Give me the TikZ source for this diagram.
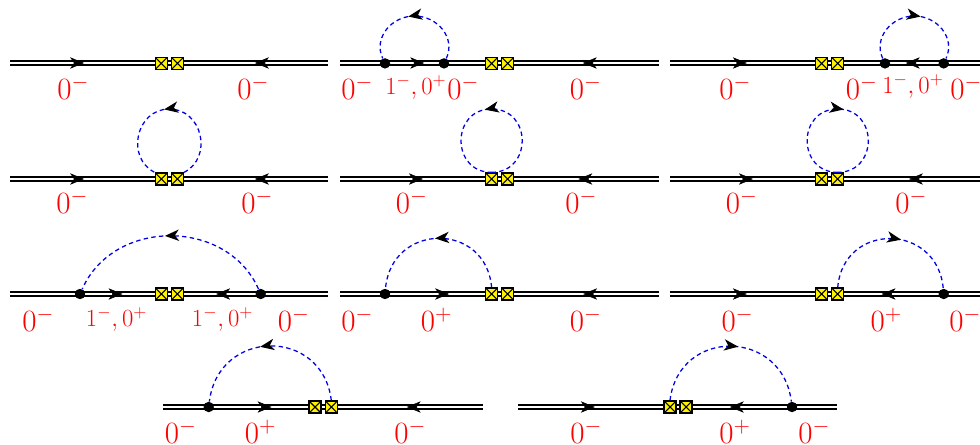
\documentclass[tikz,border=0pt]{standalone}
\usepackage{xcolor}
\usepackage{amsmath,amssymb}
\usepackage{tikz}
\usetikzlibrary{positioning,arrows.meta,decorations.markings}

\begin{document}
\begin{tikzpicture}[x=0.75pt,y=-0.75pt,
    every node/.style={font=\small},
    hadron/.style={preaction={draw,black,line width=1.05pt,double=white,double distance=2.2pt}},
    flow/.style 2 args={postaction={decorate},decoration={markings,
        mark=at position #1 with {\arrow{Stealth[length=10.5pt,width=8.5pt,inset=3pt]}},
        mark=at position #2 with {\arrowreversed{Stealth[length=10.5pt,width=8.5pt,inset=3pt]}}}},
    scalar/.style={draw=blue!90!black,line width=0.95pt,dash pattern=on 3.3pt off 2.5pt,
        postaction={decorate},decoration={markings,
        mark=at position #1 with {\arrow{Stealth[length=10.5pt,width=8.5pt,inset=3pt,black]}}}},
    scalar/.default=0.52,
    vertex/.style={circle,fill=black,inner sep=0pt,minimum size=7.8pt},
    insertion/.style={rectangle,draw=black,line width=0.95pt,fill=yellow,inner sep=0pt,minimum size=9pt,
        path picture={\draw[line width=0.8pt] (path picture bounding box.north west)--(path picture bounding box.south east)
            (path picture bounding box.north east)--(path picture bounding box.south west);}},
    bigstate/.style={text=red,font=\huge,scale=1.12,inner sep=0pt,anchor=base west},
    smallstate/.style={text=red,font=\LARGE,scale=1.07,inner sep=0pt,anchor=base west}]
  \clip (0,0) rectangle (980,445);
  % top row
  \coordinate (a1) at (10,63); \coordinate (b1) at (328,63);
  \path[hadron,flow={0.233}{0.77}] (a1) -- (b1);
  \node[insertion] (l1) at (161.3,63.4) {}; \node[insertion] (r1) at (177.4,63.4) {};
  \node[bigstate] (s1a) at (57,99.3) {$0^-$};
  \node[bigstate] (s1b) at (237,99.3) {$0^-$};

  \coordinate (a2) at (340,63); \coordinate (b2) at (659,63);
  \path[hadron,flow={0.264}{0.761}] (a2) -- (b2);
  \node[insertion] (l2) at (491.6,63.4) {}; \node[insertion] (r2) at (507.7,63.4) {};
  \node[vertex] (v2) at (385,63.4) {}; \node[vertex] (w2) at (444,63.4) {};
  \coordinate (t2) at (414.5,16);
  \draw[scalar=0.55] (w2) to[out=65,in=0,looseness=1.1] (t2) to[out=180,in=115,looseness=1.1] (v2);
  \node[bigstate] (s2a) at (341,99.3) {$0^-$};
  \node[smallstate] (s2b) at (385,94.5) {$1^-,0^+$};
  \node[bigstate] (s2c) at (447,99.3) {$0^-$};
  \node[bigstate] (s2d) at (569.5,99.3) {$0^-$};

  \coordinate (a3) at (670,63); \coordinate (b3) at (989,63);
  \path[hadron,flow={0.241}{0.739}] (a3) -- (b3);
  \node[insertion] (l3) at (821.6,63.4) {}; \node[insertion] (r3) at (837.7,63.4) {};
  \node[vertex] (v3) at (885,63.4) {}; \node[vertex] (w3) at (943.7,63.4) {};
  \coordinate (t3) at (914.3,16);
  \draw[scalar=0.55] (v3) to[out=115,in=180,looseness=1.1] (t3) to[out=0,in=65,looseness=1.1] (w3);
  \node[bigstate] (s3a) at (719,99.3) {$0^-$};
  \node[bigstate] (s3b) at (845.5,99.3) {$0^-$};
  \node[smallstate] (s3c) at (882,93.5) {$1^-,0^+$};
  \node[bigstate] (s3d) at (950,99.3) {$0^-$};

  % tadpoles
  \coordinate (a4) at (10,179); \coordinate (b4) at (328,179);
  \path[hadron,flow={0.233}{0.77}] (a4) -- (b4);
  \node[insertion] (l4) at (161.3,179) {}; \node[insertion] (r4) at (177.4,179) {};
  \coordinate (t4) at (169.3,109);
  \draw[scalar=0.53] (r4.north east) to[out=27,in=0,looseness=1.3] (t4) to[out=180,in=153,looseness=1.3] (l4.north west);
  \node[bigstate] (s4a) at (56,214) {$0^-$};
  \node[bigstate] (s4b) at (241,214) {$0^-$};

  \coordinate (a5) at (340,179); \coordinate (b5) at (659,179);
  \path[hadron,flow={0.26}{0.747}] (a5) -- (b5);
  \node[insertion] (l5) at (491.6,179) {}; \node[insertion] (r5) at (507.7,179) {};
  \coordinate (t5) at (491.6,109);
  \draw[scalar=0.535] (l5.north) to[out=0,in=0,looseness=1.65] (t5) to[out=180,in=180,looseness=1.65] (l5.north);
  \node[bigstate] (s5a) at (395.5,214) {$0^-$};
  \node[bigstate] (s5b) at (565,214) {$0^-$};

  \coordinate (a6) at (670,179); \coordinate (b6) at (989,179);
  \path[hadron,flow={0.26}{0.749}] (a6) -- (b6);
  \node[insertion] (l6) at (821.6,179) {}; \node[insertion] (r6) at (837.7,179) {};
  \coordinate (t6) at (837.7,109);
  \draw[scalar=0.53] (r6.north) to[out=180,in=180,looseness=1.65] (t6) to[out=0,in=0,looseness=1.65] (r6.north);
  \node[bigstate] (s6a) at (725.5,214) {$0^-$};
  \node[bigstate] (s6b) at (895,214) {$0^-$};

  % third row
  \coordinate (a7) at (10,294); \coordinate (b7) at (328,294);
  \path[hadron,flow={0.354}{0.648}] (a7) -- (b7);
  \node[insertion] (l7) at (161.3,294) {}; \node[insertion] (r7) at (177.4,294) {};
  \node[vertex] (v7) at (80,294) {}; \node[vertex] (w7) at (260.7,294) {};
  \draw[scalar=0.525] (w7) to[bend right=66,looseness=1.13] (v7);
  \node[bigstate] (s7a) at (22,331.5) {$0^-$};
  \node[smallstate] (s7b) at (85.7,326) {$1^-,0^+$};
  \node[smallstate] (s7c) at (191.7,326) {$1^-,0^+$};
  \node[bigstate] (s7d) at (277.5,331.5) {$0^-$};

  \coordinate (a8) at (340,294); \coordinate (b8) at (659,294);
  \path[hadron,flow={0.342}{0.762}] (a8) -- (b8);
  \node[insertion] (l8) at (491.6,294) {}; \node[insertion] (r8) at (507.7,294) {};
  \node[vertex] (v8) at (385,294) {};
  \draw[scalar] (l8.north) to[out=95,in=85,looseness=1.6] (v8);
  \node[bigstate] (s8a) at (341,331.5) {$0^-$};
  \node[bigstate] (s8b) at (420.5,331.5) {$0^+$};
  \node[bigstate] (s8c) at (569.5,331.5) {$0^-$};

  \coordinate (a9) at (670,294); \coordinate (b9) at (989,294);
  \path[hadron,flow={0.241}{0.663}] (a9) -- (b9);
  \node[insertion] (l9) at (821.6,294) {}; \node[insertion] (r9) at (837.7,294) {};
  \node[vertex] (v9) at (943.7,294) {};
  \draw[scalar=0.565] (r9.north) to[out=85,in=95,looseness=1.6] (v9);
  \node[bigstate] (s9a) at (721.3,331.5) {$0^-$};
  \node[bigstate] (s9b) at (870.3,331.5) {$0^+$};
  \node[bigstate] (s9c) at (949,331.5) {$0^-$};

  % bottom row
  \coordinate (a10) at (163.3,407); \coordinate (b10) at (482.7,407);
  \path[hadron,flow={0.339}{0.762}] (a10) -- (b10);
  \node[insertion] (l10) at (315,407) {}; \node[insertion] (r10) at (331.3,407) {};
  \node[vertex] (v10) at (208.7,407) {};
  \draw[scalar=0.555] (r10.north) to[out=97,in=83,looseness=1.55] (v10);
  \node[bigstate] (s10a) at (164.5,443.5) {$0^-$};
  \node[bigstate] (s10b) at (244.5,443.5) {$0^+$};
  \node[bigstate] (s10c) at (394,443.5) {$0^-$};

  \coordinate (a11) at (518.3,407); \coordinate (b11) at (837.3,407);
  \path[hadron,flow={0.24}{0.663}] (a11) -- (b11);
  \node[insertion] (l11) at (670,407) {}; \node[insertion] (r11) at (686,407) {};
  \node[vertex] (v11) at (792,407) {};
  \draw[scalar=0.54] (l11.north) to[out=83,in=97,looseness=1.55] (v11);
  \node[bigstate] (s11a) at (570,443.5) {$0^-$};
  \node[bigstate] (s11b) at (719,443.5) {$0^+$};
  \node[bigstate] (s11c) at (798,443.5) {$0^-$};
\end{tikzpicture}
\end{document}
